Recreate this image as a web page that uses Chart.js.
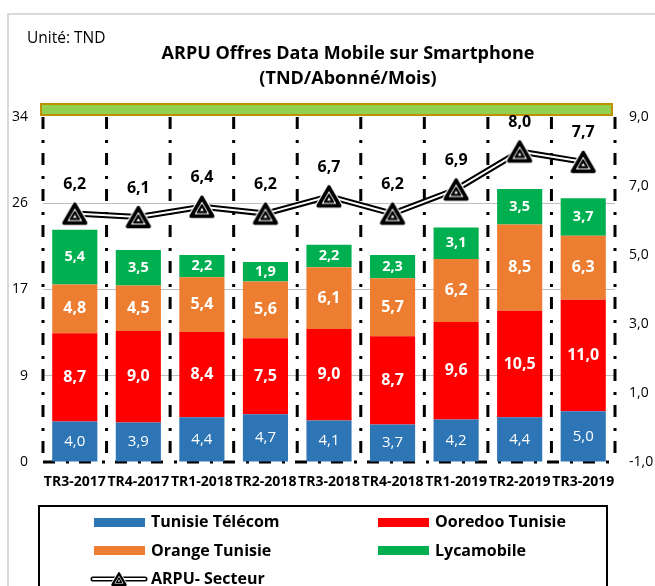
<!DOCTYPE html>
<html>
<head>
<meta charset="utf-8">
<script src="https://cdn.jsdelivr.net/npm/chart.js@4.4.0/dist/chart.umd.min.js"></script>
<style>
  html, body { margin: 0; padding: 0; background: #fff; overflow: hidden; }
  #wrap { position: relative; width: 655px; height: 586px; overflow: hidden; }
  #chart { position: absolute; left: 0; top: 0; }
  #legendBox { position: absolute; left: 38px; top: 505px; width: 570px; height: 120px; border: 2px solid #000; box-sizing: border-box; }
  .lg-text { position: absolute; font: bold 16px "Open Sans"; color: #000; line-height: 20px; white-space: nowrap; }
  .lg-sw { position: absolute; width: 51px; height: 9px; }
</style>
</head>
<body>
<div id="wrap">
  <canvas id="chart" width="655" height="586"></canvas>
  <div id="legendBox"></div>
  <div class="lg-sw" style="left:94px;top:518px;background:#2E75B6"></div>
  <div class="lg-text" style="left:151px;top:511px">Tunisie Télécom</div>
  <div class="lg-sw" style="left:378px;top:518px;background:#FF0000"></div>
  <div class="lg-text" style="left:435px;top:511px">Ooredoo Tunisie</div>
  <div class="lg-sw" style="left:94px;top:546px;background:#ED7D31"></div>
  <div class="lg-text" style="left:151px;top:540px">Orange Tunisie</div>
  <div class="lg-sw" style="left:378px;top:546px;background:#00B050"></div>
  <div class="lg-text" style="left:435px;top:540px">Lycamobile</div>
  <canvas id="lgLine" width="58" height="22" style="position:absolute;left:90px;top:568px"></canvas>
  <div class="lg-text" style="left:151px;top:568px">ARPU- Secteur</div>
</div>
<script>
// data
const categories = ['TR3-2017', 'TR4-2017', 'TR1-2018', 'TR2-2018', 'TR3-2018', 'TR4-2018', 'TR1-2019', 'TR2-2019', 'TR3-2019'];
const tunisieTelecom = [4.0, 3.9, 4.4, 4.7, 4.1, 3.7, 4.2, 4.4, 5.0];
const ooredoo = [8.7, 9.0, 8.4, 7.5, 9.0, 8.7, 9.6, 10.5, 11.0];
const orange = [4.8, 4.5, 5.4, 5.6, 6.1, 5.7, 6.2, 8.5, 6.3];
const lycamobile = [5.4, 3.5, 2.2, 1.9, 2.2, 2.3, 3.1, 3.5, 3.7];
const arpuSecteur = [6.2, 6.1, 6.4, 6.2, 6.7, 6.2, 6.9, 8.0, 7.7];

// axes
const leftMin = 0, leftMax = 34, leftStep = 8.5;
const rightMin = -1, rightMax = 9, rightStep = 2;

Chart.defaults.font.family = '"Open Sans"';
Chart.defaults.color = '#000';

const fmt = v => v.toFixed(1).replace('.', ',');

function tri(g, cx, cy, r) {
  g.beginPath();
  for (let k = 0; k < 3; k++) {
    const a = -Math.PI / 2 + k * 2 * Math.PI / 3;
    const px = cx + r * Math.cos(a), py = cy + r * Math.sin(a);
    if (k) g.lineTo(px, py); else g.moveTo(px, py);
  }
  g.closePath();
}

// triangle marker like the excel one
function drawMarker(g, cx, cy, s) {
  const R = 12.5 * s;
  cy = cy + R / 4;
  g.save();
  g.lineJoin = 'round';
  tri(g, cx, cy, R); g.fillStyle = '#fff'; g.fill(); g.strokeStyle = '#fff'; g.lineWidth = 6 * s; g.stroke();
  tri(g, cx, cy, R); g.fillStyle = '#000'; g.fill(); g.strokeStyle = '#000'; g.lineWidth = 3.5 * s; g.stroke();
  tri(g, cx, cy, R * 0.68); g.fillStyle = '#fff'; g.fill();
  tri(g, cx, cy, R * 0.4); g.fillStyle = '#000'; g.fill(); g.strokeStyle = '#000'; g.lineWidth = 1.8 * s; g.stroke();
  tri(g, cx, cy, R * 0.17); g.fillStyle = '#fff'; g.fill();
  g.restore();
}

function makeMarker(s) {
  const cv = document.createElement('canvas');
  cv.width = Math.round(34 * s);
  cv.height = Math.round(32 * s);
  drawMarker(cv.getContext('2d'), cv.width / 2, cv.height / 2, s);
  return cv;
}

const marker = makeMarker(1);

function dashDot(ctx, x1, y1, x2, y2) {
  ctx.save();
  ctx.strokeStyle = '#000';
  ctx.lineWidth = 3;
  ctx.setLineDash([12, 11, 3, 10]);
  ctx.beginPath();
  ctx.moveTo(x1, y1);
  ctx.lineTo(x2, y2);
  ctx.stroke();
  ctx.restore();
}

// frame, dividers, band, titles
const decoPlugin = {
  id: 'deco',
  beforeDatasetsDraw(chart) {
    const ctx = chart.ctx;
    const a = chart.chartArea;
    const xs = chart.scales.x;

    // outer light border
    ctx.save();
    ctx.strokeStyle = '#d9d9d9';
    ctx.lineWidth = 2;
    ctx.beginPath();
    ctx.moveTo(8, 600);
    ctx.lineTo(8, 14);
    ctx.lineTo(660, 14);
    ctx.stroke();
    ctx.restore();

    // green band above the plot
    ctx.save();
    ctx.fillStyle = '#92D050';
    ctx.strokeStyle = '#BF9000';
    ctx.lineWidth = 2;
    ctx.fillRect(a.left - 2, a.top - 13, a.width - 1, 11);
    ctx.strokeRect(a.left - 2, a.top - 13, a.width - 1, 11);
    ctx.restore();

    // dividers between quarters
    for (let i = 1; i < categories.length; i++) {
      const x = (xs.getPixelForValue(i - 1) + xs.getPixelForValue(i)) / 2;
      dashDot(ctx, x, a.top, x, a.bottom);
    }
    dashDot(ctx, a.left, a.top, a.left, a.bottom);
    dashDot(ctx, a.right, a.top, a.right, a.bottom);
    dashDot(ctx, a.left, a.bottom, a.right, a.bottom);
  },
  afterDraw(chart) {
    const ctx = chart.ctx;
    ctx.save();
    ctx.fillStyle = '#000';
    ctx.textBaseline = 'alphabetic';
    ctx.textAlign = 'left';
    ctx.font = '15.5px "Open Sans"';
    ctx.fillText('Unité: TND', 27, 43);
    ctx.textAlign = 'center';
    ctx.font = 'bold 18px "Open Sans"';
    ctx.fillText('ARPU Offres Data Mobile sur Smartphone', 348, 59);
    ctx.fillText('(TND/Abonné/Mois)', 348, 84);
    ctx.restore();
  }
};

// value labels
const labelPlugin = {
  id: 'valueLabels',
  afterDatasetsDraw(chart) {
    const ctx = chart.ctx;
    ctx.save();
    ctx.textAlign = 'center';
    ctx.textBaseline = 'middle';
    chart.data.datasets.forEach((ds, i) => {
      if (!ds.labelFont) return;
      const meta = chart.getDatasetMeta(i);
      ctx.font = ds.labelFont;
      ctx.fillStyle = ds.labelColor;
      meta.data.forEach((el, j) => {
        const v = ds.data[j];
        const y = ds.type === 'line' ? el.y - 29 : (el.y + el.base) / 2;
        ctx.fillText(fmt(v), el.x, y);
      });
    });
    ctx.restore();
  }
};

const barCommon = { type: 'bar', yAxisID: 'y', stack: 'ops', order: 3, barPercentage: 0.71, categoryPercentage: 1, borderWidth: 0 };

new Chart(document.getElementById('chart'), {
  data: {
    labels: categories,
    datasets: [
      Object.assign({}, barCommon, { label: 'Tunisie Télécom', data: tunisieTelecom, backgroundColor: '#2E75B6', labelFont: '15px "Open Sans"', labelColor: '#fff' }),
      Object.assign({}, barCommon, { label: 'Ooredoo Tunisie', data: ooredoo, backgroundColor: '#FF0000', labelFont: 'bold 16px "Open Sans"', labelColor: '#fff' }),
      Object.assign({}, barCommon, { label: 'Orange Tunisie', data: orange, backgroundColor: '#ED7D31', labelFont: 'bold 16px "Open Sans"', labelColor: '#fff' }),
      Object.assign({}, barCommon, { label: 'Lycamobile', data: lycamobile, backgroundColor: '#00B050', labelFont: 'bold 14.5px "Open Sans"', labelColor: '#fff' }),
      {
        type: 'line', label: 'ARPU- Secteur (contour)', data: arpuSecteur, yAxisID: 'y1', order: 2,
        borderColor: '#000', borderWidth: 6, pointRadius: 0, tension: 0, fill: false
      },
      {
        type: 'line', label: 'ARPU- Secteur', data: arpuSecteur, yAxisID: 'y1', order: 1,
        borderColor: '#fff', borderWidth: 2, pointStyle: marker, pointRadius: 14, tension: 0, fill: false,
        labelFont: 'bold 16px "Open Sans"', labelColor: '#000'
      }
    ]
  },
  options: {
    responsive: false,
    animation: false,
    layout: { padding: { top: 117, left: 0, right: 0, bottom: 84 } },
    plugins: { legend: { display: false }, tooltip: { enabled: false }, title: { display: false } },
    scales: {
      x: {
        stacked: true,
        offset: true,
        grid: { display: false },
        border: { display: false },
        ticks: { font: { size: 14, weight: 'bold' }, color: '#000', maxRotation: 0, minRotation: 0, autoSkip: false, padding: 4 },
        afterFit: s => { s.height = 40; }
      },
      y: {
        position: 'left',
        stacked: true,
        min: leftMin, max: leftMax,
        ticks: { stepSize: leftStep, callback: v => Math.round(v), font: { size: 14 }, color: '#000', padding: 15 },
        grid: {
          drawTicks: false,
          lineWidth: 1,
          color: c => (c.tick && (c.tick.value === leftMin || c.tick.value === leftMax)) ? 'rgba(0,0,0,0)' : '#bfbfbf'
        },
        border: { display: false },
        afterFit: s => { s.width = 43; }
      },
      y1: {
        position: 'right',
        min: rightMin, max: rightMax,
        ticks: { stepSize: rightStep, callback: v => fmt(v), font: { size: 14 }, color: '#000', padding: 14 },
        grid: { display: false, drawTicks: false },
        border: { display: false },
        afterFit: s => { s.width = 40; }
      }
    }
  },
  plugins: [decoPlugin, labelPlugin]
});

// legend symbol for the line series
(function () {
  const g = document.getElementById('lgLine').getContext('2d');
  g.lineCap = 'round';
  g.strokeStyle = '#000'; g.lineWidth = 5;
  g.beginPath(); g.moveTo(3, 11); g.lineTo(55, 11); g.stroke();
  g.strokeStyle = '#fff'; g.lineWidth = 1.8;
  g.beginPath(); g.moveTo(3, 11); g.lineTo(55, 11); g.stroke();
  drawMarker(g, 29, 11, 0.62);
})();
</script>
</body>
</html>
